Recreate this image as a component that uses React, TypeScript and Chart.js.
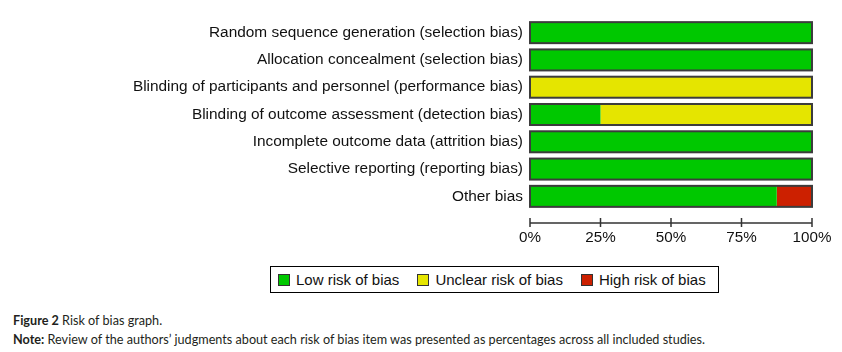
import React, { useEffect, useRef } from "react";
import { Chart, registerables } from "chart.js";

Chart.register(...registerables);

const categories = [
  "Random sequence generation (selection bias)",
  "Allocation concealment (selection bias)",
  "Blinding of participants and personnel (performance bias)",
  "Blinding of outcome assessment (detection bias)",
  "Incomplete outcome data (attrition bias)",
  "Selective reporting (reporting bias)",
  "Other bias",
];
const lowRisk = [100, 100, 0, 25, 100, 100, 87.5];
const unclearRisk = [0, 0, 100, 75, 0, 0, 0];
const highRisk = [0, 0, 0, 0, 0, 0, 12.5];
const seriesNames = ["Low risk of bias", "Unclear risk of bias", "High risk of bias"];
const seriesColors = ["#00c800", "#e5e500", "#cc2000"];
const xTickValues = [0, 25, 50, 75, 100];

const FONT = "'Liberation Sans', Arial, sans-serif";

const outlinePlugin = {
  id: "rowOutline",
  afterDatasetsDraw(chart: any) {
    const ctx = chart.ctx;
    const xs = chart.scales.x;
    const x0 = xs.getPixelForValue(xTickValues[0]);
    const x1 = xs.getPixelForValue(xTickValues[xTickValues.length - 1]);
    const meta = chart.getDatasetMeta(0);
    ctx.save();
    ctx.strokeStyle = "#3c3c3c";
    ctx.lineWidth = 2;
    meta.data.forEach((bar: any) => {
      const { y, height } = bar.getProps(["y", "height"], true);
      ctx.strokeRect(x0, y - height / 2, x1 - x0, height);
    });
    // axis line and tick marks
    const ay = chart.chartArea.bottom + 13;
    ctx.strokeStyle = "#333333";
    ctx.lineWidth = 1.5;
    ctx.beginPath();
    ctx.moveTo(x0, ay);
    ctx.lineTo(x1, ay);
    xTickValues.forEach((v) => {
      const px = xs.getPixelForValue(v);
      ctx.moveTo(px, ay - 5);
      ctx.lineTo(px, ay + 4);
    });
    ctx.stroke();
    ctx.restore();
  },
};

function RiskChart() {
  const ref = useRef<HTMLCanvasElement | null>(null);
  useEffect(() => {
    if (!ref.current) return;
    const series = [lowRisk, unclearRisk, highRisk];
    const chart = new Chart(ref.current, {
      type: "bar",
      data: {
        labels: categories,
        datasets: series.map((d, i) => ({
          label: seriesNames[i],
          data: d,
          backgroundColor: seriesColors[i],
          borderWidth: 0,
          barPercentage: 0.77,
          categoryPercentage: 1,
        })),
      },
      options: {
        indexAxis: "y",
        animation: false,
        responsive: false,
        devicePixelRatio: 1,
        layout: { padding: { top: 19, right: 30, left: 0, bottom: 0 } },
        plugins: {
          legend: { display: false },
          tooltip: { enabled: false },
        },
        scales: {
          x: {
            stacked: true,
            min: 0,
            max: 100,
            afterBuildTicks: (scale: any) => {
              scale.ticks = xTickValues.map((v) => ({ value: v }));
            },
            afterFit: (scale: any) => {
              scale.height = 42;
              scale.paddingLeft = 0;
              scale.paddingRight = 0;
            },
            grid: { display: false, drawTicks: false },
            border: { display: false },
            ticks: {
              padding: 19,
              color: "#111111",
              font: { family: FONT, size: 15.2 },
              callback: (v: any) => v + "%",
              maxRotation: 0,
            },
          },
          y: {
            stacked: true,
            afterFit: (scale: any) => {
              scale.width = 530;
              scale.paddingTop = 0;
              scale.paddingBottom = 0;
            },
            grid: { display: false, drawTicks: false },
            border: { display: false },
            ticks: {
              padding: 7,
              color: "#111111",
              font: { family: FONT, size: 15.4 },
              autoSkip: false,
            },
          },
        },
      },
      plugins: [outlinePlugin],
    });
    return () => chart.destroy();
  }, []);
  return (
    <canvas
      ref={ref}
      width={842}
      height={252}
      style={{ position: "absolute", left: 0, top: 0, width: 842, height: 252 }}
    />
  );
}

export default function App() {
  return (
    <div
      style={{
        position: "absolute",
        left: 0,
        top: 0,
        width: 842,
        height: 352,
        background: "#ffffff",
        overflow: "hidden",
      }}
    >
      <RiskChart />
      <div
        style={{
          position: "absolute",
          left: 270,
          top: 266,
          width: 449,
          height: 27,
          boxSizing: "border-box",
          border: "1px solid #000",
          display: "flex",
          alignItems: "center",
          paddingLeft: 7,
          fontFamily: FONT,
          fontSize: 15,
          color: "#111",
        }}
      >
        {seriesNames.map((n, i) => (
          <div key={n} style={{ display: "flex", alignItems: "center", marginRight: 18 }}>
            <span
              style={{
                display: "inline-block",
                width: 12,
                height: 12,
                boxSizing: "border-box",
                border: "1px solid #333",
                background: seriesColors[i],
                marginRight: 6,
              }}
            />
            <span style={{ whiteSpace: "nowrap" }}>{n}</span>
          </div>
        ))}
      </div>
      <div
        style={{
          position: "absolute",
          left: 13,
          top: 311,
          fontFamily: "Lato, 'Open Sans', sans-serif",
          fontSize: 12.65,
          lineHeight: "19px",
          color: "#231f20",
          whiteSpace: "nowrap",
        }}
      >
        <div>
          <b>Figure 2</b> Risk of bias graph.
        </div>
        <div>
          <b>Note:</b> Review of the authors’ judgments about each risk of bias item was presented as
          percentages across all included studies.
        </div>
      </div>
    </div>
  );
}
